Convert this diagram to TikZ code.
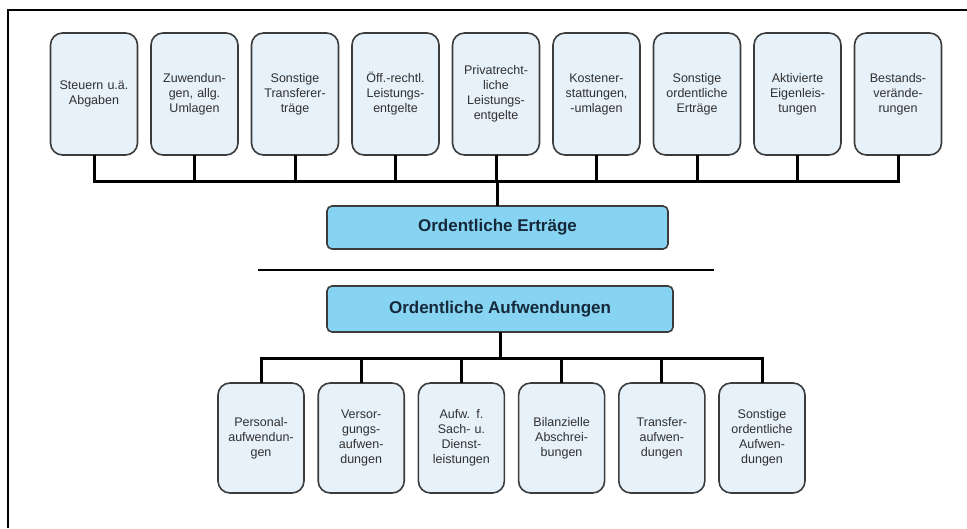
\documentclass[tikz,border=0pt]{standalone}
\usepackage{fontspec}
\setmainfont{Liberation Sans}
\usetikzlibrary{positioning}

\definecolor{kastenblau}{HTML}{E6F1FA}
\definecolor{summenblau}{HTML}{86D3F2}
\definecolor{rahmengrau}{HTML}{3C3C3C}
\definecolor{schrift}{HTML}{303030}
\definecolor{summenschrift}{HTML}{15293A}

\begin{document}
\begin{tikzpicture}[x=1pt,y=-1pt,outer sep=0pt,
  posten/.style={draw=rahmengrau,line width=1.6pt,fill=kastenblau,rounded corners=12pt,
    text width=79pt,inner xsep=4pt,minimum height=122pt,align=center,text=schrift,
    font=\fontsize{12.5}{15}\selectfont},
  aufwand/.style={posten,text width=78pt,minimum height=110pt},
  summe/.style={draw=rahmengrau,line width=1.6pt,fill=summenblau,rounded corners=5pt,
    minimum width=341pt,minimum height=43pt,text=summenschrift,
    font=\fontsize{17}{20}\selectfont\bfseries},
  bus/.style={line width=3pt}]
  \useasboundingbox (0,0) rectangle (967,528);

  % Rahmen
  \draw[line width=2.5pt] (8,528) -- (8,10) -- (967,10);

  % Ertraege
  \node[posten]  (e1) at (94,94) {Steuern u.ä.\\Abgaben};
  \node[posten]  (e2) [right=13.5pt of e1] {Zuwendun-\\gen, allg.\\Umlagen};
  \node[posten]  (e3) [right=13.5pt of e2] {Sonstige\\Transferer-\\träge};
  \node[posten]  (e4) [right=13.5pt of e3] {Öff.-rechtl.\\Leistungs-\\entgelte};
  \node[posten]  (e5) [right=13.5pt of e4] {Privatrecht-\\liche\\Leistungs-\\entgelte};
  \node[posten]  (e6) [right=13.5pt of e5] {Kostener-\\stattungen,\\-umlagen};
  \node[posten]  (e7) [right=13.5pt of e6] {Sonstige\\ordentliche\\Erträge};
  \node[posten]  (e8) [right=13.5pt of e7] {Aktivierte\\Eigenleis-\\tungen};
  \node[posten]  (e9) [right=13.5pt of e8] {Bestands-\\verände-\\rungen};

  \node[summe] (ert) at (497.5,227.5) {Ordentliche Erträge};
  \draw[line width=2.6pt] (258,270) -- (714,270);
  \node[summe,minimum width=346pt,minimum height=46pt] (auf) at (500,309) {Ordentliche Aufwendungen};

  % Aufwendungen
  \node[aufwand] (a1) at (261,438) {Personal-\\aufwendun-\\gen};
  \node[aufwand] (a2) [right=14.2pt of a1] {Versor-\\gungs-\\aufwen-\\dungen};
  \node[aufwand] (a3) [right=14.2pt of a2] {Aufw. f.\\Sach- u.\\Dienst-\\leistungen};
  \node[aufwand] (a4) [right=14.2pt of a3] {Bilanzielle\\Abschrei-\\bungen};
  \node[aufwand] (a5) [right=14.2pt of a4] {Transfer-\\aufwen-\\dungen};
  \node[aufwand] (a6) [right=14.2pt of a5] {Sonstige\\ordentliche\\Aufwen-\\dungen};

  \coordinate (oben)  at (ert.north |- 0,181);
  \coordinate (unten) at (auf.south |- 0,358);

  \draw[bus] (e1.south) |- (oben) (e2.south) |- (oben) (e3.south) |- (oben)
             (e4.south) |- (oben) (e5.south) |- (oben) (e6.south) |- (oben)
             (e7.south) |- (oben) (e8.south) |- (oben) (e9.south) |- (oben)
             (oben) -- (ert.north);
  \draw[bus] (auf.south) -- (unten)
             (a1.north) |- (unten) (a2.north) |- (unten) (a3.north) |- (unten)
             (a4.north) |- (unten) (a5.north) |- (unten) (a6.north) |- (unten);
\end{tikzpicture}
\end{document}
